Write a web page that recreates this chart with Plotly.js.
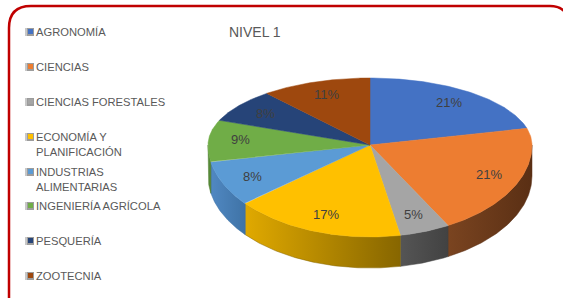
<!DOCTYPE html>
<html>
<head>
<meta charset="utf-8">
<script src="https://cdn.plot.ly/plotly-3.0.1.min.js"></script>
<style>html,body{margin:0;padding:0;background:#fff;}#chart{width:563px;height:298px;}</style>
</head>
<body>
<div id="chart"></div>
<script>
// ---- data ----
const categories = ["AGRONOMÍA", "CIENCIAS", "CIENCIAS FORESTALES", "ECONOMÍA Y PLANIFICACIÓN",
  "INDUSTRIAS ALIMENTARIAS", "INGENIERÍA AGRÍCOLA", "PESQUERÍA", "ZOOTECNIA"];
const legendLabels = ["AGRONOMÍA", "CIENCIAS", "CIENCIAS FORESTALES", "ECONOMÍA Y<br>PLANIFICACIÓN",
  "INDUSTRIAS<br>ALIMENTARIAS", "INGENIERÍA AGRÍCOLA", "PESQUERÍA", "ZOOTECNIA"];
const values = [21, 21, 5, 17, 8, 9, 8, 11];
const colors = ["#4472C4", "#ED7D31", "#A5A5A5", "#FFC000", "#5B9BD5", "#70AD47", "#264478", "#9E480E"];
const sideLeft = ["#2F4F8A", "#7A4420", "#555555", "#E0A900", "#5088C2", "#5E9A3C", "#1A2F54", "#6E320A"];
const sideRight = ["#2F4F8A", "#5A2F14", "#424242", "#876600", "#3F73A6", "#4E7A32", "#1A2F54", "#6E320A"];
const title = "NIVEL 1";

// ---- geometry (pixel space) ----
const CX = 370, CY = 145, RA = 162, BTOP = 67, BBOT = 92, DEPTH = 31, LABEL_F = 0.8;
function pt(theta, f) {
  f = f === undefined ? 1 : f;
  const c = Math.cos(theta), s = Math.sin(theta);
  const b = c >= 0 ? BTOP : BBOT;
  return [CX + RA * s * f, CY - b * c * f];
}
const total = values.reduce((a, b) => a + b, 0);
const traces = [], annotations = [], shapes = [];
let cum = 0;
const sides = [], tops = [];
values.forEach((v, i) => {
  const t0 = cum / total * 2 * Math.PI;
  cum += v;
  const t1 = cum / total * 2 * Math.PI;
  // top face
  const xs = [CX], ys = [CY];
  const n = 80;
  for (let k = 0; k <= n; k++) {
    const p = pt(t0 + (t1 - t0) * k / n);
    xs.push(p[0]); ys.push(p[1]);
  }
  xs.push(CX); ys.push(CY);
  tops.push({x: xs, y: ys, type: "scatter", mode: "lines", fill: "toself", fillcolor: colors[i],
    line: {color: colors[i], width: 0.5}, hoverinfo: "skip", showlegend: false, name: categories[i]});
  // side wall (front half only)
  const s0 = Math.max(t0, Math.PI / 2), s1 = Math.min(t1, 3 * Math.PI / 2);
  if (s1 > s0) {
    const sx = [], sy = [], bx = [], by = [];
    for (let k = 0; k <= n; k++) {
      const p = pt(s0 + (s1 - s0) * k / n);
      sx.push(p[0]); sy.push(p[1]);
      bx.unshift(p[0]); by.unshift(p[1] + DEPTH);
    }
    const X = sx.concat(bx, [sx[0]]), Y = sy.concat(by, [sy[0]]);
    // left-to-right colour order depends on direction (front arc runs right -> left)
    sides.push({x: X, y: Y, type: "scatter", mode: "lines", fill: "toself",
      fillgradient: {type: "horizontal", colorscale: [[0, sideLeft[i]], [1, sideRight[i]]]},
      fillcolor: sideRight[i],
      line: {color: sideRight[i], width: 0.5}, hoverinfo: "skip", showlegend: false, name: categories[i]});
  }
  // label
  const lp = pt((t0 + t1) / 2, LABEL_F);
  annotations.push({x: lp[0], y: lp[1], xref: "x", yref: "y", text: Math.round(v / total * 100) + "%",
    showarrow: false, font: {family: "Liberation Sans, Arial, sans-serif", size: 13, color: "#404040"}});
});
traces.push(...sides, ...tops);

// legend (annotations + swatches)
const legendY = [32, 67, 102, 137, 172, 206, 241, 276];
legendLabels.forEach((lab, i) => {
  const y = legendY[i];
  annotations.push({x: 34.5, y: y - 7.5, xref: "x", yref: "y", xanchor: "left", yanchor: "top", align: "left",
    text: lab, showarrow: false, borderpad: 0,
    font: {family: "Liberation Sans, Arial, sans-serif", size: 11.2, color: "#595959"}});
  shapes.push({type: "rect", xref: "x", yref: "y", x0: 25, x1: 34, y0: y - 4, y1: y + 4,
    fillcolor: "#9C9C9C", line: {width: 0}});
  shapes.push({type: "rect", xref: "x", yref: "y", x0: 25, x1: 27, y0: y - 4, y1: y + 4,
    fillcolor: "#C8C8C8", line: {width: 0}});
  shapes.push({type: "rect", xref: "x", yref: "y", x0: 28, x1: 33, y0: y - 3, y1: y + 2,
    fillcolor: colors[i], line: {width: 0}});
});
annotations.push({x: 227, y: 32, xref: "x", yref: "y", xanchor: "left", text: title, showarrow: false,
  font: {family: "Liberation Sans, Arial, sans-serif", size: 14, color: "#595959"}});

// border
shapes.push({type: "path", xref: "x", yref: "y",
  path: "M 9,300 L 9,28 Q 9,6 31,6 L 550,6 Q 566,6 570,22 L 570,300",
  line: {color: "#C00000", width: 2.5}, fillcolor: "rgba(0,0,0,0)"});

const layout = {
  width: 563, height: 298, margin: {l: 0, r: 0, t: 0, b: 0},
  paper_bgcolor: "#ffffff", plot_bgcolor: "#ffffff", showlegend: false,
  xaxis: {range: [0, 563], visible: false, fixedrange: true},
  yaxis: {range: [298, 0], visible: false, fixedrange: true},
  annotations: annotations, shapes: shapes
};
Plotly.newPlot("chart", traces, layout, {staticPlot: true, displayModeBar: false});
</script>
</body>
</html>
